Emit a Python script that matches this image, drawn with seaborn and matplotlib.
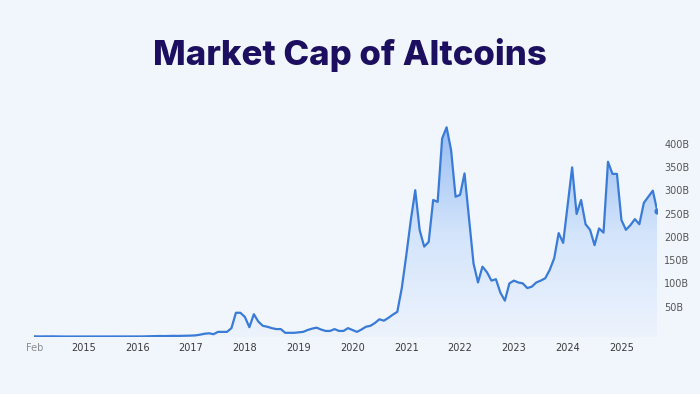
import numpy as np
import pandas as pd
import matplotlib
matplotlib.use("Agg")
import matplotlib.pyplot as plt
import seaborn as sns
from matplotlib.transforms import ScaledTranslation
from matplotlib.colors import LinearSegmentedColormap

# Market cap of altcoins, billions USD, monthly (Feb 2014 - Sep 2025)
v2014 = [1.5, 1.2, 1.3, 1.5, 1.4, 1.2, 1.1, 1.0, 1.0, 0.9, 1.0]
v2015 = [0.9, 0.9, 0.8, 0.8, 0.8, 0.8, 0.9, 0.8, 0.8, 0.8, 0.9, 1.0]
v2016 = [1.1, 1.2, 1.5, 1.8, 2.0, 2.2, 2.0, 2.3, 2.5, 2.3, 2.5, 2.6]
v2017 = [3.0, 3.5, 5, 7, 8, 6, 11, 11, 11, 19, 52, 52]
v2018 = [43, 21, 49, 33, 24, 22, 19, 17, 17, 9, 9, 9]
v2019 = [10, 11, 15, 18, 20, 16, 13, 13, 17, 13, 13, 19]
v2020 = [15, 11, 16, 22, 24, 30, 38, 35, 41, 48, 54, 105]
v2021 = [175, 250, 315, 229, 194, 204, 294, 290, 426, 450, 401, 301]
v2022 = [305, 351, 255, 158, 117, 151, 139, 121, 124, 95, 78, 115]
v2023 = [121, 117, 115, 105, 108, 117, 121, 126, 144, 169, 223, 202]
v2024 = [283, 364, 264, 294, 242, 230, 197, 233, 224, 376, 350, 350]
v2025 = [251, 230, 240, 253, 242, 288, 301, 314, 270]

values = v2014 + v2015 + v2016 + v2017 + v2018 + v2019 + v2020 + v2021 + v2022 + v2023 + v2024 + v2025
months = pd.date_range("2014-02-01", periods=len(values), freq="MS")
x_labels = ["Feb", "2015", "2016", "2017", "2018", "2019", "2020", "2021", "2022", "2023", "2024", "2025"]
y_ticks = [50, 100, 150, 200, 250, 300, 350, 400]
y_labels = [f"{v}B" for v in y_ticks]
title = "Market Cap of Altcoins"

df = pd.DataFrame({"idx": np.arange(len(values)), "value": values})

BG = "#f1f6fd"
LINE = "#3a7bd6"
W, H = 700, 394
fig = plt.figure(figsize=(7, 3.94), dpi=100, facecolor=BG)
sns.set_style("white")

x0, x1 = 34.2, 657.3
y_zero, y_top = 337.0, 120.0
ax = fig.add_axes([x0 / W, (H - y_zero) / H, (x1 - x0) / W, (y_zero - y_top) / H])
ax.set_facecolor(BG)
ax.patch.set_alpha(0)
n = len(values)
ax.set_xlim(0, n - 1)
ymax = (y_zero - y_top) / 0.466
ax.set_ylim(0, ymax)

# gradient fill under curve
poly = ax.fill_between(df["idx"], 0, df["value"], color="none", lw=0)
cmap = LinearSegmentedColormap.from_list("g", ["#edf3fd", "#d3e4fb", "#97bdf3"])
grad = np.linspace(0, 1, 256).reshape(-1, 1)
im = ax.imshow(grad, cmap=cmap, aspect="auto", origin="lower",
               extent=[0, n - 1, 0, 450], zorder=1, interpolation="bicubic")
path = poly.get_paths()[0]
im.set_clip_path(path, transform=ax.transData)

sns.lineplot(data=df, x="idx", y="value", ax=ax, color=LINE, linewidth=1.6, zorder=3)
ax.plot([n - 1], [values[-1]], "o", color=LINE, markersize=3.5, zorder=4)

for s in ax.spines.values():
    s.set_visible(False)

# x ticks: Feb 2014 then each January
xt = [0] + [i for i, d in enumerate(months) if d.month == 1]
ax.set_xticks(xt)
ax.set_xticklabels(x_labels[:len(xt)])
ax.tick_params(axis="x", length=0, pad=4, labelsize=7, labelcolor="#3a3a3a")
ax.get_xticklabels()[0].set_color("#8c8c8c")
ax.set_xlabel("")

ax.yaxis.tick_right()
ax.set_yticks(y_ticks)
ax.set_yticklabels(y_labels)
ax.tick_params(axis="y", length=0, pad=5, labelsize=7, labelcolor="#555555")
off = ScaledTranslation(0, 7 / 100, fig.dpi_scale_trans)
for lab in ax.get_yticklabels():
    lab.set_transform(lab.get_transform() + off)
ax.set_ylabel("")
ax.grid(False)

fig.text(0.5, 1 - 55 / H, title, ha="center", va="center", fontsize=25,
         fontweight="heavy", family=["Inter", "Lato", "DejaVu Sans"], color="#1c0f5f")

fig.savefig("out.png", dpi=100, facecolor=BG)
